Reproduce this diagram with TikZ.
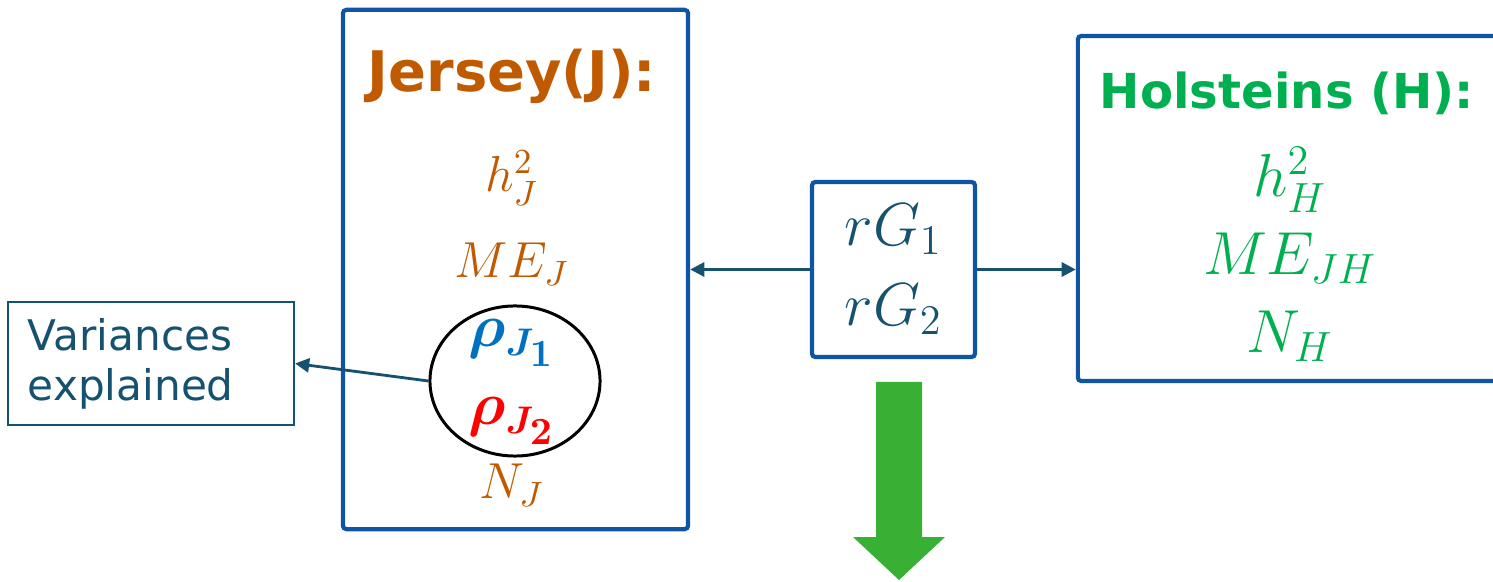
\documentclass[tikz,border=0pt]{standalone}
\usepackage{amsmath,amssymb}
\usepackage{fontspec}
\newfontfamily\verd{DejaVu Sans}
\usepackage{xcolor}
\usepackage{tikz}
\usetikzlibrary{arrows.meta, positioning, shapes.geometric}

\definecolor{boxblue}{RGB}{14,86,163}
\definecolor{jorange}{RGB}{192,90,0}
\definecolor{hgreen}{RGB}{0,176,80}
\definecolor{darkteal}{RGB}{20,82,112}
\definecolor{rhoblue}{RGB}{0,112,192}
\definecolor{rhored}{RGB}{255,0,0}
\definecolor{bigarrow}{RGB}{55,176,52}

\begin{document}
\begin{tikzpicture}[
    x=0.01cm, y=-0.01cm,
    box/.style={draw=boxblue, line width=1.2pt, rounded corners=1pt, inner sep=0pt},
    breed/.style={font=\verd\bfseries\fontsize{#1}{#1}\selectfont, inner sep=0pt},
    param/.style={font=\fontsize{#1}{#1}\selectfont, inner sep=0pt},
    arr/.style={-{Triangle[length=4pt, width=4pt]}, line width=0.8pt, color=darkteal}
]
    \useasboundingbox (0,0) rectangle (1493,582);

    % Jersey box
    \node[box, minimum width=3.45cm, minimum height=5.19cm] (jersey) at (515.5,269.5) {};
    \node[breed=15.9, text=jorange] (jtitle) at (512,76) {Jersey(J):};
    \node[param=14.5, text=jorange] (jh2) at (512,178) {$h_J^2$};
    \node[param=14.5, text=jorange] (jme) at (512,264) {$ME_J$};
    \node[draw, ellipse, line width=0.85pt, minimum width=1.7cm, minimum height=1.5cm, inner sep=0pt] (rhos) at (515,381) {};
    \node[param=16, text=rhoblue] (rho1) at (512,343) {$\boldsymbol{\rho_{J_{\scriptstyle 1}}}$};
    \node[param=16, text=rhored] (rho2) at (512,421) {$\boldsymbol{\rho_{J_{\scriptstyle 2}}}$};
    \node[param=14.5, text=jorange] (jn) at (512,485) {$N_J$};

    % Variances
    \node[draw=darkteal, line width=0.6pt, text=darkteal, text width=2.46cm, inner xsep=0.2cm,
          minimum height=1.23cm, align=left, font=\verd\fontsize{12}{14.2}\selectfont] (var) at (151,363.5)
          {Variances\\explained};

    % Genetic correlations
    \node[box, minimum width=1.63cm, minimum height=1.75cm, align=center, text=darkteal,
          font=\fontsize{17}{22.7}\selectfont] (rg) at (893.5,269.5) {$rG_1$\\$rG_2$};

    % Holstein box
    \node[box, minimum width=4.42cm, minimum height=3.45cm] (holst) at (1299,208.5) {};
    \node[breed=13.7, text=hgreen] (htitle) at (1287,93) {Holsteins (H):};
    \node[param=16.5, text=hgreen] (hh2) at (1290,180) {$h_H^2$};
    \node[param=16.5, text=hgreen] (hme) at (1290,258) {$ME_{JH}$};
    \node[param=16.5, text=hgreen] (hn) at (1290,336) {$N_H$};

    % Arrows
    \draw[arr] (rg.west) -- (jersey.east);
    \draw[arr] (rg.east) -- (rg.east -| holst.west);
    \draw[arr] (rhos.west) -- (var.east);

    % Big down arrow
    \fill[bigarrow] (876,382) -- (922,382) -- (922,537) -- (945,537) -- (899,580)
        -- (853,537) -- (876,537) -- cycle;
\end{tikzpicture}
\end{document}
